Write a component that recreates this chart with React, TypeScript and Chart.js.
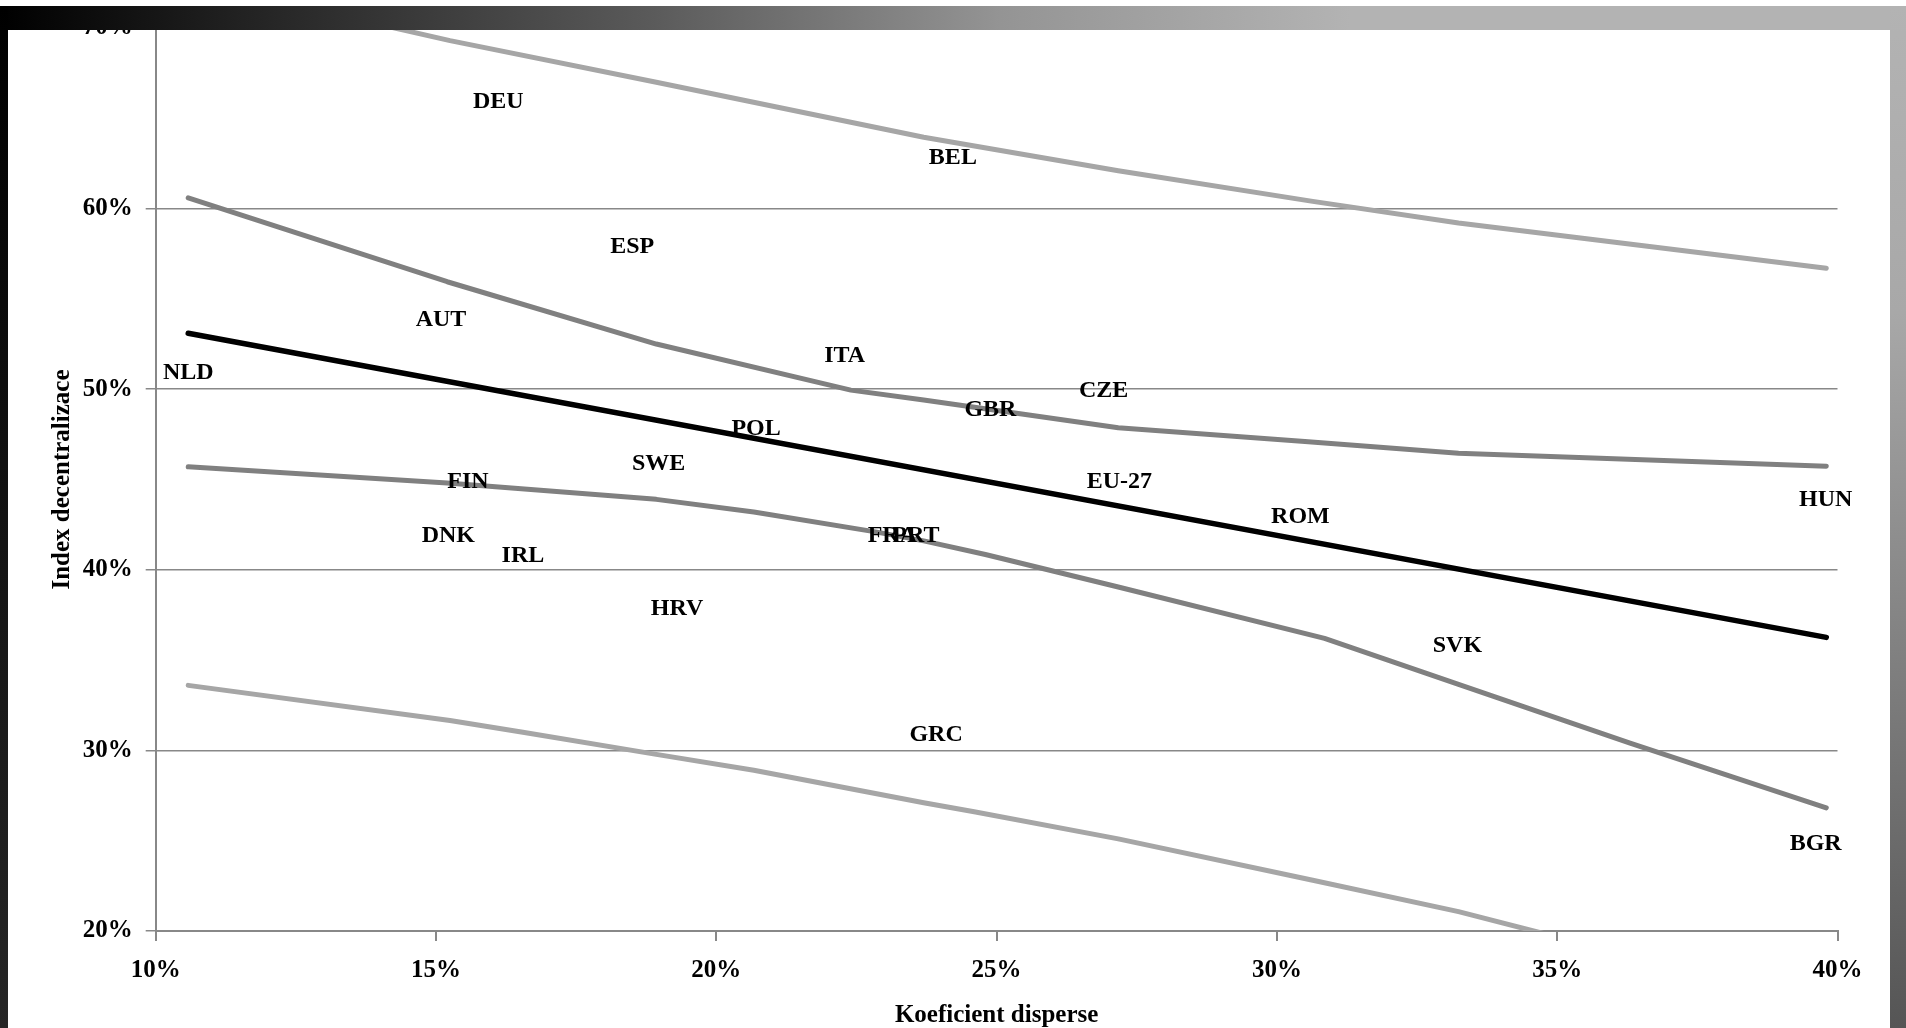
import React, { useEffect, useRef } from 'react';
import { Chart, registerables } from 'chart.js';

Chart.register(...registerables);

// ---- Data (values in %) ----
const trendX = [10.58, 39.8];
const trendY = [53.1, 36.26];

const innerUpperX = [10.58, 15.2, 18.93, 22.4, 23.7, 27.17, 30.5, 33.24, 39.8];
const innerUpperY = [60.6, 55.95, 52.5, 49.95, 49.4, 47.87, 47.1, 46.45, 45.74];

const innerLowerX = [10.58, 15.2, 18.93, 20.67, 22.84, 23.7, 24.8, 27.17, 30.85, 33.24, 36.3, 39.8];
const innerLowerY = [45.7, 44.8, 43.9, 43.2, 42.1, 41.6, 40.85, 39.05, 36.2, 33.66, 30.4, 26.82];

const outerUpperX = [10.58, 15.25, 18.93, 23.7, 27.17, 30.64, 33.24, 39.8];
const outerUpperY = [72.6, 69.3, 67.0, 63.95, 62.1, 60.4, 59.2, 56.7];

const outerLowerX = [10.58, 15.25, 16.55, 18.93, 20.67, 23.7, 24.6, 27.17, 30.64, 33.24, 34.76, 39.8];
const outerLowerY = [33.6, 31.66, 31.0, 29.78, 28.9, 27.1, 26.6, 25.1, 22.81, 21.07, 19.86, 15.8];

const countryCodes = ['DEU', 'BEL', 'ESP', 'AUT', 'ITA', 'NLD', 'CZE', 'GBR', 'POL', 'SWE', 'FIN', 'EU-27', 'HUN', 'ROM', 'DNK', 'FRA', 'PRT', 'IRL', 'HRV', 'SVK', 'GRC', 'BGR'];
const countryX = [16.11, 24.22, 18.5, 15.09, 22.29, 10.58, 26.91, 24.89, 20.71, 18.97, 15.57, 27.19, 39.79, 30.42, 15.22, 23.14, 23.56, 16.55, 19.3, 33.22, 23.92, 39.61];
const countryY = [65.9, 62.82, 57.86, 53.84, 51.83, 50.89, 49.89, 48.88, 47.81, 45.87, 44.86, 44.86, 43.87, 42.92, 41.91, 41.9, 41.9, 40.77, 37.82, 35.81, 30.85, 24.83];

const xMin = 10;
const xMax = 40;
const xStep = 5;
const yMin = 20;
const yMax = 70;
const yStep = 10;
const xTitle = 'Koeficient disperse';
const yTitle = 'Index decentralizace';

const FONT = '"Liberation Serif", "Times New Roman", serif';

const pts = (xs: number[], ys: number[]) => xs.map((x, i) => ({ x, y: ys[i] }));

const LABEL_DS = 5;

const labelPlugin = {
  id: 'countryLabels',
  afterDatasetsDraw(chart: any) {
    const meta = chart.getDatasetMeta(LABEL_DS);
    const ctx = chart.ctx;
    ctx.save();
    ctx.font = `bold 24px ${FONT}`;
    ctx.fillStyle = '#000';
    ctx.textAlign = 'center';
    ctx.textBaseline = 'middle';
    meta.data.forEach((el: any, i: number) => {
      ctx.fillText(countryCodes[i], el.x, el.y);
    });
    ctx.restore();
  },
};

function lineDs(xs: number[], ys: number[], color: string, width: number) {
  return {
    data: pts(xs, ys),
    showLine: true,
    borderColor: color,
    backgroundColor: color,
    borderWidth: width,
    pointRadius: 0,
    pointHoverRadius: 0,
    tension: 0,
    borderCapStyle: 'round',
    borderJoinStyle: 'round',
    fill: false,
  };
}

export default function App() {
  const ref = useRef<HTMLCanvasElement | null>(null);

  useEffect(() => {
    if (!ref.current) return;
    const chart = new Chart(ref.current, {
      type: 'scatter',
      data: {
        datasets: [
          lineDs(trendX, trendY, '#000000', 5.5),
          lineDs(innerUpperX, innerUpperY, '#808080', 5),
          lineDs(innerLowerX, innerLowerY, '#808080', 5),
          lineDs(outerUpperX, outerUpperY, '#a6a6a6', 5),
          lineDs(outerLowerX, outerLowerY, '#a6a6a6', 5),
          {
            data: pts(countryX, countryY),
            showLine: false,
            pointRadius: 0,
            pointHoverRadius: 0,
          },
        ] as any,
      },
      options: {
        responsive: false,
        animation: false,
        events: [],
        layout: { padding: { left: 8, right: 68.5, top: 24, bottom: 0 } },
        plugins: {
          legend: { display: false },
          tooltip: { enabled: false },
        },
        scales: {
          x: {
            type: 'linear',
            min: xMin,
            max: xMax,
            ticks: {
              stepSize: xStep,
              callback: (v: any) => v + '%',
              color: '#000',
              font: { family: FONT, size: 25, weight: 'bold', lineHeight: 1.2 },
              padding: 15,
              maxRotation: 0,
              autoSkip: false,
            },
            grid: {
              drawOnChartArea: false,
              drawTicks: true,
              tickLength: 10,
              color: '#888',
              lineWidth: 2,
            },
            border: { display: true, color: '#888', width: 2 },
            title: {
              display: true,
              text: xTitle,
              color: '#000',
              font: { family: FONT, size: 25, weight: 'bold', lineHeight: 1 },
              padding: { top: 0, bottom: 0 },
            },
            afterFit: (s: any) => {
              s.height = 97;
            },
          },
          y: {
            type: 'linear',
            min: yMin,
            max: yMax,
            ticks: {
              stepSize: yStep,
              callback: (v: any) => v + '%',
              color: '#000',
              font: { family: FONT, size: 25, weight: 'bold', lineHeight: 1.2 },
              padding: 13,
            },
            grid: {
              drawTicks: true,
              tickLength: 10,
              color: '#888',
              lineWidth: 1.5,
            },
            border: { display: true, color: '#888', width: 2 },
            title: {
              display: true,
              text: yTitle,
              color: '#000',
              font: { family: FONT, size: 25, weight: 'bold', lineHeight: 1 },
              padding: { top: 42, bottom: 0 },
            },
            afterFit: (s: any) => {
              s.width = 147.7;
            },
          },
        },
      } as any,
      plugins: [labelPlugin],
    });
    return () => chart.destroy();
  }, []);

  return (
    <div
      style={{
        position: 'absolute',
        left: 0,
        top: 0,
        width: 1906,
        height: 1028,
        background: '#fff',
        overflow: 'hidden',
      }}
    >
      <canvas
        ref={ref}
        width={1906}
        height={1028}
        style={{ position: 'absolute', left: 0, top: 0, width: 1906, height: 1028 }}
      />
      <div
        style={{
          position: 'absolute',
          left: 0,
          top: 6,
          width: 1906,
          height: 24,
          background:
            'linear-gradient(to right, #000 0px, #2a2a2a 300px, #5a5a5a 650px, #949494 1000px, #b3b3b3 1350px, #b3b3b3 100%)',
        }}
      />
      <div
        style={{
          position: 'absolute',
          left: 0,
          top: 6,
          width: 8,
          height: 1022,
          background: 'linear-gradient(to bottom, #000 0%, #262626 100%)',
        }}
      />
      <div
        style={{
          position: 'absolute',
          left: 1890,
          top: 6,
          width: 16,
          height: 1022,
          background: 'linear-gradient(to bottom, #b3b3b3 0%, #a8a8a8 30%, #555 100%)',
        }}
      />
    </div>
  );
}
